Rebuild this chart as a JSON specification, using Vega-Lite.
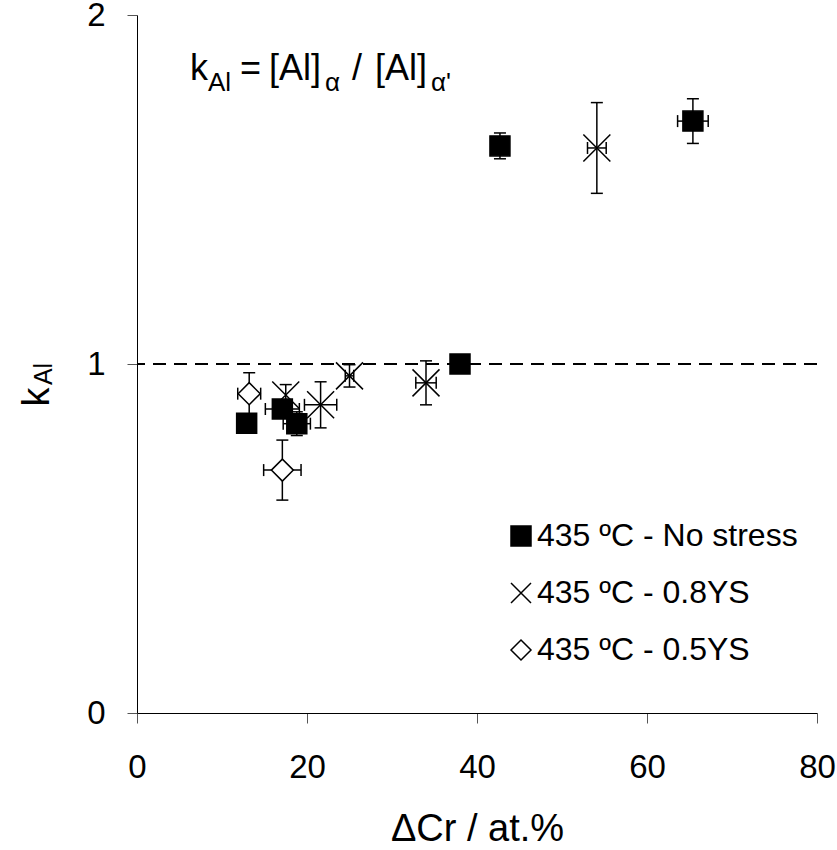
{
  "$schema": "https://vega.github.io/schema/vega-lite/v6.json",
  "width": 680,
  "height": 698,
  "autosize": {"type": "none"},
  "padding": {"left": 137, "top": 15, "right": 20, "bottom": 137},
  "background": "white",
  "config": {
    "view": {"stroke": null},
    "font": "Liberation Sans",
    "axis": {
      "grid": false,
      "domainColor": "#000000",
      "domainWidth": 1,
      "tickColor": "#555555",
      "tickSize": 10,
      "tickWidth": 1,
      "labelFontSize": 33,
      "labelColor": "#000000",
      "labelFont": "Liberation Sans",
      "titleFont": "Liberation Sans",
      "titleFontWeight": "normal",
      "titleColor": "#000000",
      "labelFlush": false,
      "labelOverlap": false
    },
    "legend": {
      "orient": "none",
      "legendX": 368,
      "legendY": 505,
      "padding": 0,
      "labelFontSize": 32,
      "labelFont": "Liberation Sans",
      "labelColor": "#000000",
      "labelLimit": 500,
      "symbolSize": 400,
      "symbolStrokeWidth": 1.5,
      "rowPadding": 25,
      "labelOffset": 0
    }
  },
  "data": {
    "values": [
      {"series": "435 ºC - No stress", "x": 12.9, "y": 0.83},
      {"series": "435 ºC - No stress", "x": 17.1, "y": 0.871, "xlo": 15.1, "xhi": 19.1},
      {"series": "435 ºC - No stress", "x": 18.8, "y": 0.829, "xlo": 17.2, "xhi": 20.4, "ylo": 0.795, "yhi": 0.863},
      {"series": "435 ºC - No stress", "x": 38.0, "y": 1.0},
      {"series": "435 ºC - No stress", "x": 42.7, "y": 1.625, "ylo": 1.588, "yhi": 1.662},
      {"series": "435 ºC - No stress", "x": 65.4, "y": 1.696, "xlo": 63.6, "xhi": 67.2, "ylo": 1.632, "yhi": 1.76},
      {"series": "435 ºC - 0.8YS", "x": 17.5, "y": 0.911, "ylo": 0.881, "yhi": 0.941},
      {"series": "435 ºC - 0.8YS", "x": 21.6, "y": 0.883, "xlo": 19.7, "xhi": 23.5, "ylo": 0.817, "yhi": 0.949},
      {"series": "435 ºC - 0.8YS", "x": 25.0, "y": 0.966, "xlo": 24.5, "xhi": 25.5, "ylo": 0.934, "yhi": 0.998},
      {"series": "435 ºC - 0.8YS", "x": 34.0, "y": 0.946, "xlo": 32.8, "xhi": 35.2, "ylo": 0.883, "yhi": 1.009},
      {"series": "435 ºC - 0.8YS", "x": 54.1, "y": 1.619, "xlo": 53.0, "xhi": 55.2, "ylo": 1.489, "yhi": 1.749},
      {"series": "435 ºC - 0.5YS", "x": 13.2, "y": 0.915, "xlo": 11.85, "xhi": 14.55, "ylo": 0.855, "yhi": 0.975},
      {"series": "435 ºC - 0.5YS", "x": 17.1, "y": 0.696, "xlo": 14.9, "xhi": 19.3, "ylo": 0.61, "yhi": 0.782}
    ]
  },
  "layer": [
    {
      "mark": {"type": "rule", "strokeDash": [13, 8], "strokeWidth": 2, "color": "#000000"},
      "encoding": {"y": {"datum": 1, "type": "quantitative", "title": null}}
    },
    {
      "transform": [{"filter": "isValid(datum.ylo)"}],
      "mark": {"type": "rule", "strokeWidth": 1.5, "color": "#000000"},
      "encoding": {
        "x": {"field": "x", "type": "quantitative", "title": "ΔCr / at.%"},
        "y": {"field": "ylo", "type": "quantitative", "title": null},
        "y2": {"field": "yhi"}
      }
    },
    {
      "transform": [{"filter": "isValid(datum.ylo)"}],
      "mark": {"type": "tick", "orient": "horizontal", "size": 12, "thickness": 1.5, "color": "#000000", "opacity": 1},
      "encoding": {
        "x": {"field": "x", "type": "quantitative", "title": "ΔCr / at.%"},
        "y": {"field": "ylo", "type": "quantitative", "title": null}
      }
    },
    {
      "transform": [{"filter": "isValid(datum.yhi)"}],
      "mark": {"type": "tick", "orient": "horizontal", "size": 12, "thickness": 1.5, "color": "#000000", "opacity": 1},
      "encoding": {
        "x": {"field": "x", "type": "quantitative", "title": "ΔCr / at.%"},
        "y": {"field": "yhi", "type": "quantitative", "title": null}
      }
    },
    {
      "transform": [{"filter": "isValid(datum.xlo)"}],
      "mark": {"type": "rule", "strokeWidth": 1.5, "color": "#000000"},
      "encoding": {
        "x": {"field": "xlo", "type": "quantitative", "title": "ΔCr / at.%"},
        "x2": {"field": "xhi"},
        "y": {"field": "y", "type": "quantitative", "title": null}
      }
    },
    {
      "transform": [{"filter": "isValid(datum.xlo)"}],
      "mark": {"type": "tick", "orient": "vertical", "size": 12, "thickness": 1.5, "color": "#000000", "opacity": 1},
      "encoding": {
        "x": {"field": "xlo", "type": "quantitative", "title": "ΔCr / at.%"},
        "y": {"field": "y", "type": "quantitative", "title": null}
      }
    },
    {
      "transform": [{"filter": "isValid(datum.xhi)"}],
      "mark": {"type": "tick", "orient": "vertical", "size": 12, "thickness": 1.5, "color": "#000000", "opacity": 1},
      "encoding": {
        "x": {"field": "xhi", "type": "quantitative", "title": "ΔCr / at.%"},
        "y": {"field": "y", "type": "quantitative", "title": null}
      }
    },
    {
      "mark": {"type": "point", "strokeWidth": 1.5, "opacity": 1},
      "encoding": {
        "x": {
          "field": "x",
          "type": "quantitative",
          "title": "ΔCr / at.%",
          "scale": {"domain": [0, 80], "nice": false, "zero": false},
          "axis": {"values": [0, 20, 40, 60, 80], "titleFontSize": 38, "labelPadding": 28, "titlePadding": 26}
        },
        "y": {
          "field": "y",
          "type": "quantitative",
          "title": null,
          "scale": {"domain": [0, 2], "nice": false},
          "axis": {"values": [0, 1, 2], "format": ".0f", "labelPadding": 22}
        },
        "shape": {
          "field": "series",
          "type": "nominal",
          "title": null,
          "scale": {
            "domain": ["435 ºC - No stress", "435 ºC - 0.8YS", "435 ºC - 0.5YS"],
            "range": ["square", "M-1,-1L1,1M-1,1L1,-1", "diamond"]
          }
        },
        "fill": {
          "field": "series",
          "type": "nominal",
          "title": null,
          "scale": {
            "domain": ["435 ºC - No stress", "435 ºC - 0.8YS", "435 ºC - 0.5YS"],
            "range": ["#000000", "#ffffff", "#ffffff"]
          }
        },
        "stroke": {
          "field": "series",
          "type": "nominal",
          "title": null,
          "scale": {
            "domain": ["435 ºC - No stress", "435 ºC - 0.8YS", "435 ºC - 0.5YS"],
            "range": ["#000000", "#000000", "#000000"]
          }
        },
        "size": {
          "condition": [
            {"test": "datum.series === '435 ºC - 0.8YS'", "value": 729},
            {"test": "datum.series === '435 ºC - 0.5YS'", "value": 484}
          ],
          "value": 400
        }
      }
    },
    {
      "data": {"values": [{}]},
      "mark": {"type": "text", "text": "k", "font": "Liberation Sans", "fontSize": 36, "align": "left", "baseline": "alphabetic", "dx": 53, "dy": 65, "color": "#000000"},
      "encoding": {"x": {"datum": 0, "type": "quantitative"}, "y": {"datum": 2, "type": "quantitative"}}
    },
    {
      "data": {"values": [{}]},
      "mark": {"type": "text", "text": "Al", "font": "Liberation Sans", "fontSize": 26, "align": "left", "baseline": "alphabetic", "dx": 71, "dy": 76, "color": "#000000"},
      "encoding": {"x": {"datum": 0, "type": "quantitative"}, "y": {"datum": 2, "type": "quantitative"}}
    },
    {
      "data": {"values": [{}]},
      "mark": {"type": "text", "text": "=", "font": "Liberation Sans", "fontSize": 36, "align": "left", "baseline": "alphabetic", "dx": 103, "dy": 65, "color": "#000000"},
      "encoding": {"x": {"datum": 0, "type": "quantitative"}, "y": {"datum": 2, "type": "quantitative"}}
    },
    {
      "data": {"values": [{}]},
      "mark": {"type": "text", "text": "[Al]", "font": "Liberation Sans", "fontSize": 36, "align": "left", "baseline": "alphabetic", "dx": 132, "dy": 65, "color": "#000000"},
      "encoding": {"x": {"datum": 0, "type": "quantitative"}, "y": {"datum": 2, "type": "quantitative"}}
    },
    {
      "data": {"values": [{}]},
      "mark": {"type": "text", "text": "α", "font": "Liberation Sans", "fontSize": 26, "align": "left", "baseline": "alphabetic", "dx": 188, "dy": 76, "color": "#000000"},
      "encoding": {"x": {"datum": 0, "type": "quantitative"}, "y": {"datum": 2, "type": "quantitative"}}
    },
    {
      "data": {"values": [{}]},
      "mark": {"type": "text", "text": "/", "font": "Liberation Sans", "fontSize": 36, "align": "left", "baseline": "alphabetic", "dx": 215, "dy": 65, "color": "#000000"},
      "encoding": {"x": {"datum": 0, "type": "quantitative"}, "y": {"datum": 2, "type": "quantitative"}}
    },
    {
      "data": {"values": [{}]},
      "mark": {"type": "text", "text": "[Al]", "font": "Liberation Sans", "fontSize": 36, "align": "left", "baseline": "alphabetic", "dx": 238, "dy": 65, "color": "#000000"},
      "encoding": {"x": {"datum": 0, "type": "quantitative"}, "y": {"datum": 2, "type": "quantitative"}}
    },
    {
      "data": {"values": [{}]},
      "mark": {"type": "text", "text": "α'", "font": "Liberation Sans", "fontSize": 26, "align": "left", "baseline": "alphabetic", "dx": 294, "dy": 76, "color": "#000000"},
      "encoding": {"x": {"datum": 0, "type": "quantitative"}, "y": {"datum": 2, "type": "quantitative"}}
    },
    {
      "data": {"values": [{}]},
      "mark": {"type": "text", "text": "k", "font": "Liberation Sans", "fontSize": 38, "angle": 270, "align": "center", "baseline": "alphabetic", "dx": -33, "dy": -88, "color": "#000000"},
      "encoding": {"x": {"datum": 0, "type": "quantitative"}, "y": {"datum": 1, "type": "quantitative"}}
    },
    {
      "data": {"values": [{}]},
      "mark": {"type": "text", "text": "Al", "font": "Liberation Sans", "fontSize": 25, "angle": 270, "align": "center", "baseline": "alphabetic", "dx": -10, "dy": -85, "color": "#000000"},
      "encoding": {"x": {"datum": 0, "type": "quantitative"}, "y": {"datum": 1, "type": "quantitative"}}
    }
  ]
}
